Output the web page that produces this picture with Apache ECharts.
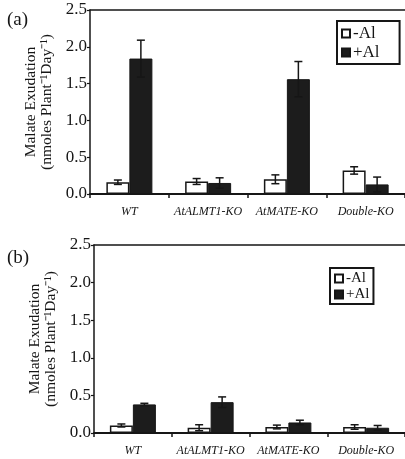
<!DOCTYPE html>
<html><head><meta charset="utf-8">
<script src="https://cdn.jsdelivr.net/npm/echarts@6/dist/echarts.min.js"></script>
<style>html,body{margin:0;padding:0;background:#fff}#c{width:405px;height:459px}</style>
</head><body><div id="c"></div>
<script>
const categories = ['WT', 'AtALMT1-KO', 'AtMATE-KO', 'Double-KO'];
const yTicks = ['0.0', '0.5', '1.0', '1.5', '2.0', '2.5'];
// Panel (a)
const aMinusAl = [0.16, 0.17, 0.20, 0.32];
const aMinusAlErr = [0.03, 0.04, 0.06, 0.05];
const aPlusAl = [1.84, 0.15, 1.56, 0.13];
const aPlusAlErr = [0.25, 0.07, 0.24, 0.10];
// Panel (b)
const bMinusAl = [0.10, 0.07, 0.08, 0.08];
const bMinusAlErr = [0.02, 0.04, 0.025, 0.03];
const bPlusAl = [0.38, 0.41, 0.14, 0.07];
const bPlusAlErr = [0.015, 0.07, 0.03, 0.03];

const SERIF = 'Liberation Serif';
const INK = '#161616';
const BW = 23;

function errData(vals, errs) { return vals.map((v, i) => [i, v, errs[i]]); }
function errRender(offset) {
  return function (params, api) {
    const i = api.value(0), v = api.value(1), e = api.value(2);
    const t = api.coord([i, v + e]);
    const b = api.coord([i, Math.max(0, v - e)]);
    const x = t[0] + offset;
    const st = { stroke: INK, lineWidth: 1.5 };
    return { type: 'group', children: [
      { type: 'line', shape: { x1: x, y1: t[1], x2: x, y2: b[1] }, style: st },
      { type: 'line', shape: { x1: x - 4, y1: t[1], x2: x + 4, y2: t[1] }, style: st },
      { type: 'line', shape: { x1: x - 4, y1: b[1], x2: x + 4, y2: b[1] }, style: st }
    ]};
  };
}

function xAx(gi) {
  return {
    type: 'category', gridIndex: gi, data: categories,
    axisLine: { lineStyle: { color: INK, width: 2 } },
    axisTick: { show: true, length: 4, lineStyle: { color: INK, width: 1.5 } },
    axisLabel: { interval: 0, fontFamily: SERIF, fontStyle: 'italic', fontSize: 12, color: INK, margin: 12 }
  };
}
function xTop(gi) {
  return {
    type: 'category', gridIndex: gi, data: categories, position: 'top',
    axisLine: { show: true, lineStyle: { color: INK, width: 1.5 } },
    axisTick: { show: false }, axisLabel: { show: false }
  };
}
function yAx(gi) {
  return {
    type: 'value', gridIndex: gi, min: 0, max: 2.5, interval: 0.5,
    name: 'Malate Exudation\n(nmoles Plant\u207B\u00B9Day\u207B\u00B9)',
    nameLocation: 'middle', nameRotate: 90, nameGap: 29,
    nameTextStyle: { fontFamily: SERIF, fontSize: 15.5, color: INK, lineHeight: 16 },
    axisLine: { show: true, lineStyle: { color: INK, width: 1.5 } },
    axisTick: { show: true, length: 3, lineStyle: { color: INK, width: 1.2 } },
    splitLine: { show: false },
    axisLabel: { fontFamily: SERIF, fontSize: 17, color: INK, margin: 3,
      formatter: (v) => yTicks[Math.round(v / 0.5)] }
  };
}
function legendAt(left, top, fs, pad, gap) {
  return {
    orient: 'vertical', left: left, top: top, data: ['-Al', '+Al'], icon: 'rect',
    itemWidth: 8, itemHeight: 8, itemGap: gap, padding: pad,
    borderColor: INK, borderWidth: 2, backgroundColor: '#fff',
    textStyle: { fontFamily: SERIF, fontSize: fs, color: INK, padding: [0, 0, 0, -2] },
    selectedMode: false
  };
}
function bars(gi, minus, plus) {
  return [
    { name: '-Al', type: 'bar', xAxisIndex: gi * 2, yAxisIndex: gi, data: minus, barWidth: BW, barGap: '0%',
      itemStyle: { color: '#fff', borderColor: INK, borderWidth: 1.5 } },
    { name: '+Al', type: 'bar', xAxisIndex: gi * 2, yAxisIndex: gi, data: plus, barWidth: BW, barGap: '0%',
      itemStyle: { color: '#1c1c1c', borderColor: INK, borderWidth: 1 } }
  ];
}
function errs(gi, minus, minusE, plus, plusE) {
  return [
    { type: 'custom', xAxisIndex: gi * 2, yAxisIndex: gi, z: 5, renderItem: errRender(-BW / 2),
      data: errData(minus, minusE), encode: { x: 0, y: 1 }, silent: true },
    { type: 'custom', xAxisIndex: gi * 2, yAxisIndex: gi, z: 5, renderItem: errRender(BW / 2),
      data: errData(plus, plusE), encode: { x: 0, y: 1 }, silent: true }
  ];
}

const chart = echarts.init(document.getElementById('c'), null, { renderer: 'canvas' });
chart.setOption({
  animation: false,
  backgroundColor: '#fff',
  grid: [
    { left: 90, top: 10, width: 316, height: 184 },
    { left: 94, top: 245, width: 314, height: 188 }
  ],
  xAxis: [xAx(0), xTop(0), xAx(1), xTop(1)],
  yAxis: [yAx(0), yAx(1)],
  legend: [legendAt(337, 21, 17, [4, 20, 3, 4], 2), legendAt(330, 268, 15, [3, 4, 2, 4], 1)],
  graphic: [
    { type: 'text', left: 7, top: 11, style: { text: '(a)', fontFamily: SERIF, fontSize: 19, fill: INK } },
    { type: 'text', left: 7, top: 249, style: { text: '(b)', fontFamily: SERIF, fontSize: 19, fill: INK } }
  ],
  series: [
    ...bars(0, aMinusAl, aPlusAl),
    ...bars(1, bMinusAl, bPlusAl),
    ...errs(0, aMinusAl, aMinusAlErr, aPlusAl, aPlusAlErr),
    ...errs(1, bMinusAl, bMinusAlErr, bPlusAl, bPlusAlErr)
  ]
});
</script></body></html>
